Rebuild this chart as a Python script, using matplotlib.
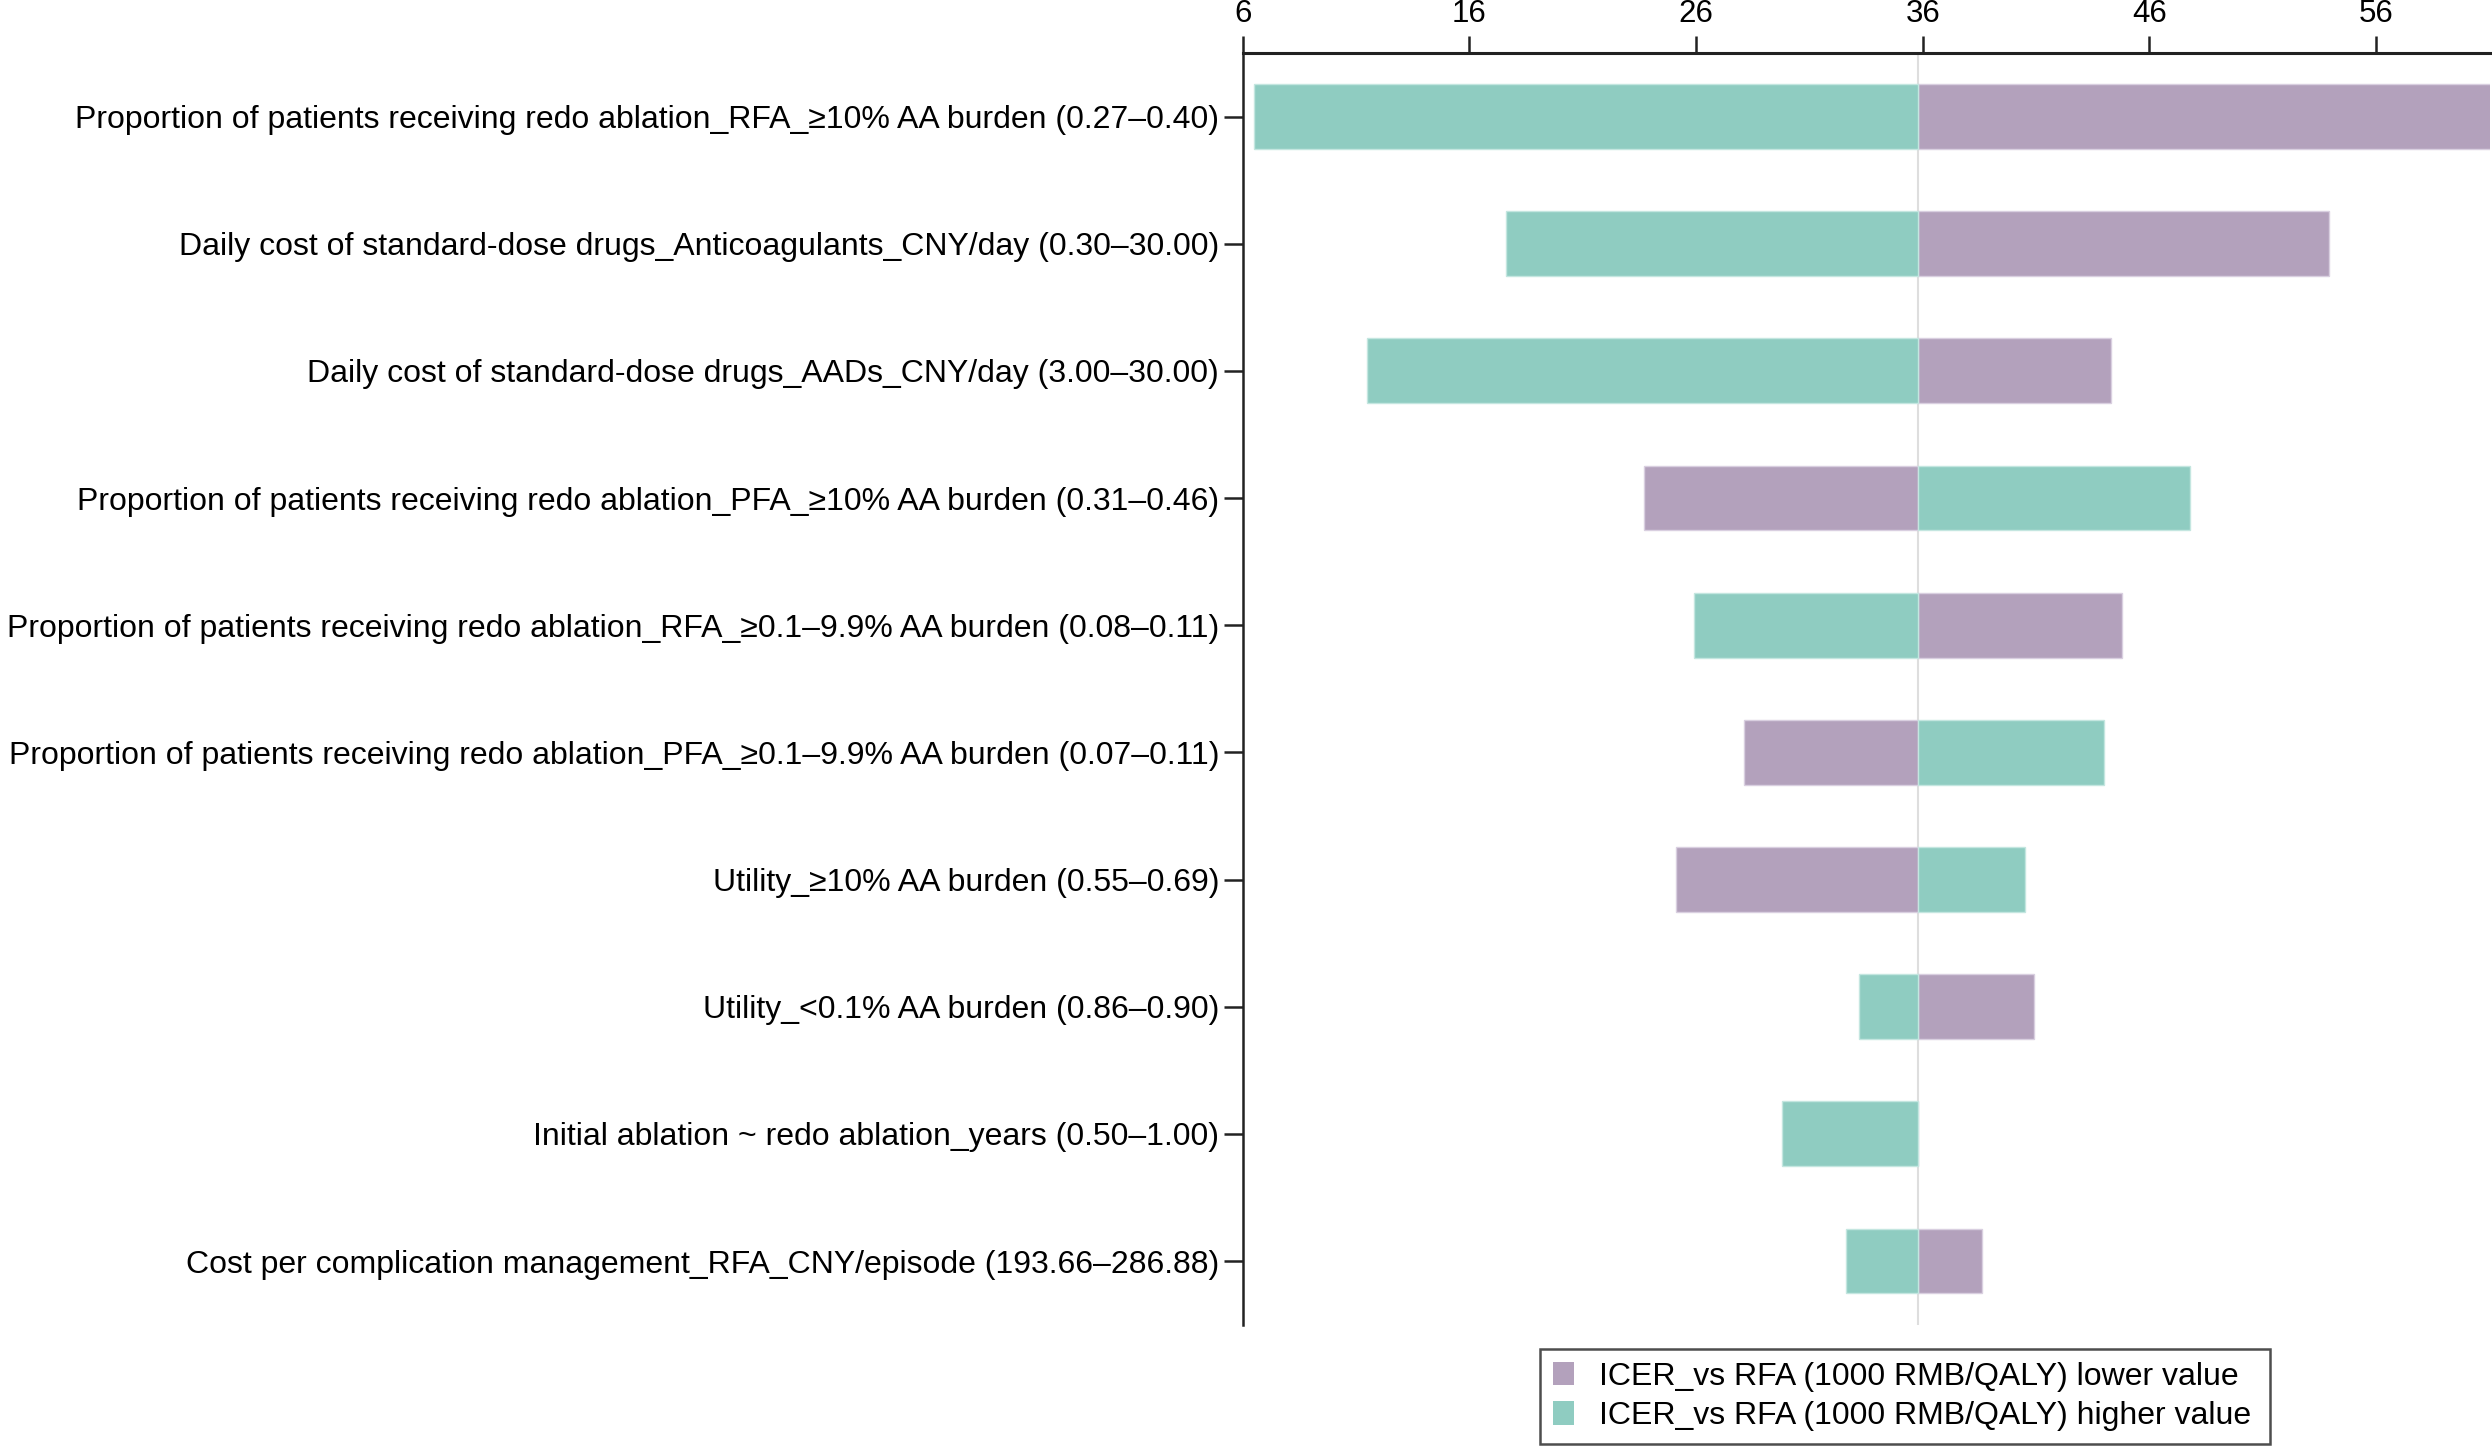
import matplotlib
matplotlib.use("Agg")
import matplotlib.pyplot as plt
from matplotlib.patches import Patch
import numpy as np

plt.rcParams['font.family'] = ['Liberation Sans', 'DejaVu Sans']

params = [
    "Proportion of patients receiving redo ablation_RFA_\u226510% AA burden (0.27\u20130.40)",
    "Daily cost of standard-dose drugs_Anticoagulants_CNY/day (0.30\u201330.00)",
    "Daily cost of standard-dose drugs_AADs_CNY/day (3.00\u201330.00)",
    "Proportion of patients receiving redo ablation_PFA_\u226510% AA burden (0.31\u20130.46)",
    "Proportion of patients receiving redo ablation_RFA_\u22650.1\u20139.9% AA burden (0.08\u20130.11)",
    "Proportion of patients receiving redo ablation_PFA_\u22650.1\u20139.9% AA burden (0.07\u20130.11)",
    "Utility_\u226510% AA burden (0.55\u20130.69)",
    "Utility_<0.1% AA burden (0.86\u20130.90)",
    "Initial ablation ~ redo ablation_years (0.50\u20131.00)",
    "Cost per complication management_RFA_CNY/episode (193.66\u2013286.88)",
]
base_icer = 35.8
# ICER at the lower / higher parameter value (1000 RMB/QALY)
icer_low = [63.0, 53.9, 44.3, 23.7, 44.8, 28.1, 25.1, 40.9, 35.8, 38.6]
icer_high = [6.5, 17.6, 11.5, 47.8, 25.9, 44.0, 40.5, 33.2, 29.8, 32.6]
xticks = [6, 16, 26, 36, 46, 56]

c_low = '#b3a1bc'
c_high = '#8fccc1'

fig = plt.figure(figsize=(24.92, 14.47), dpi=100)
ax = fig.add_axes([0.4987, 0.0846, 0.5003, 0.8788])

y = np.arange(len(params))
lo = np.array(icer_low) - base_icer
hi = np.array(icer_high) - base_icer
ax.barh(y, lo, left=base_icer, height=0.51, color=c_low, edgecolor='#d9cfe0', linewidth=1)
ax.barh(y, hi, left=base_icer, height=0.51, color=c_high, edgecolor='#c4e6e0', linewidth=1)
ax.axvline(base_icer, color='#dedede', linewidth=1.5, zorder=0)

ax.set_xlim(6, 61)
ax.set_ylim(len(params) - 0.5, -0.5)
ax.set_yticks(y)
ax.set_yticklabels(params, fontsize=23)
ax.set_xticks(xticks)
ax.xaxis.tick_top()
ax.tick_params(axis='x', labelsize=22.5, length=12.5, width=1.8, pad=5, color='#222222')
ax.tick_params(axis='y', length=14, width=1.8, pad=3, color='#222222')
for s in ['bottom', 'right']:
    ax.spines[s].set_visible(False)
ax.spines['top'].set_linewidth(2.2)
ax.spines['left'].set_linewidth(1.8)
ax.spines['top'].set_color('#222222')
ax.spines['left'].set_color('#222222')

handles = [Patch(facecolor=c_low, label='ICER_vs RFA (1000 RMB/QALY) lower value'),
           Patch(facecolor=c_high, label='ICER_vs RFA (1000 RMB/QALY) higher value')]
leg = fig.legend(handles=handles, loc='lower left', bbox_to_anchor=(0.618, 0.002, 0.293, 0.066),
                 mode='expand', fontsize=23, frameon=True, fancybox=False, handlelength=0.65,
                 handleheight=0.75, handletextpad=0.8, borderpad=0.4, labelspacing=0.3, borderaxespad=0)
leg.get_frame().set_edgecolor('#222222')
leg.get_frame().set_linewidth(1.8)

fig.savefig('out.png', dpi=100)
